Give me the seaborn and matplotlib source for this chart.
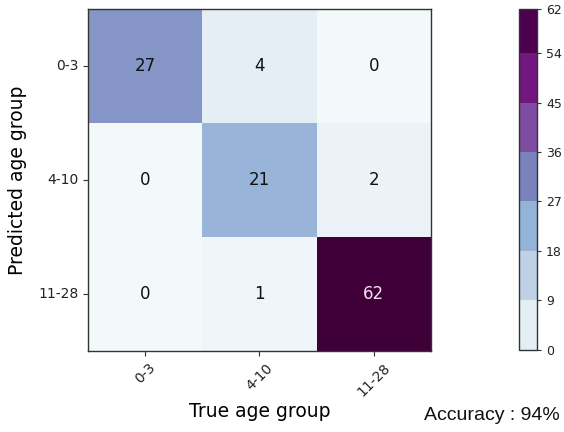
import matplotlib
matplotlib.use("Agg")
import matplotlib.pyplot as plt
import matplotlib.colors as mcolors
import matplotlib.colorbar as mcolorbar
import numpy as np
import pandas as pd
import seaborn as sns

# Age groups and confusion counts (rows: predicted, columns: true)
age_groups = ["0-3", "4-10", "11-28"]
row_0_3 = [27, 4, 0]
row_4_10 = [0, 21, 2]
row_11_28 = [0, 1, 62]
accuracy_pct = 94

# Colour-bar bin edges and segment colours
cbar_bounds = [0, 9, 18, 27, 36, 45, 54, 62]
cbar_colors = ["#e3eef5", "#bfd1e6", "#93b3d7", "#7a82bb",
               "#7e4ca0", "#72177f", "#4d004d"]

counts = pd.DataFrame([row_0_3, row_4_10, row_11_28],
                      index=age_groups, columns=age_groups)

fig = plt.figure(figsize=(5.64, 4.32), dpi=100)
ax = fig.add_axes([0.156, 0.1875, 0.608, 0.792])

# Blue-purple ramp for the cell shading (positions on a 0..1 scale)
cell_cmap = mcolors.LinearSegmentedColormap.from_list(
    "cells", [(0.0, "#f3f8fb"), (0.016, "#eff5f9"), (0.065, "#e4eef5"),
              (0.2, "#c2d4e8"), (0.339, "#97b5d9"), (0.435, "#8596c6"),
              (0.6, "#7f5fa8"), (0.8, "#6e1f80"), (1.0, "#3f0039")])
sns.heatmap(counts, ax=ax, cmap=cell_cmap, vmin=0, vmax=62, cbar=False,
            annot=True, fmt="d", annot_kws={"size": 12},
            xticklabels=age_groups, yticklabels=age_groups, square=False)

# Dark text everywhere except on the darkest cell
for txt in ax.texts:
    txt.set_color("#f2dff2" if int(txt.get_text()) > 45 else "#111111")

for sp in ax.spines.values():
    sp.set_visible(True)
    sp.set_color("#333333")
    sp.set_linewidth(1.0)

ax.tick_params(axis="both", length=3.5, width=0.8, color="#333333",
               labelsize=10, labelcolor="#222222")
plt.setp(ax.get_xticklabels(), rotation=45, ha="center")
plt.setp(ax.get_yticklabels(), rotation=0, va="center")
ax.set_xlabel("True age group", fontsize=13.5, labelpad=2)
ax.set_ylabel("Predicted age group", fontsize=13.5, labelpad=8)

# Discrete colour bar
cax = fig.add_axes([0.920, 0.19, 0.032, 0.789])
cmap_d = mcolors.ListedColormap(cbar_colors)
norm_d = mcolors.BoundaryNorm(cbar_bounds, cmap_d.N)
cb = mcolorbar.ColorbarBase(cax, cmap=cmap_d, norm=norm_d,
                            boundaries=cbar_bounds, ticks=cbar_bounds,
                            spacing="proportional")
cb.outline.set_edgecolor("#333333")
cb.outline.set_linewidth(1.0)
cax.tick_params(labelsize=9, length=3, width=0.8, color="#333333",
                labelcolor="#222222")
cax.set_yticklabels([str(b) for b in cbar_bounds])

fig.text(0.752, 0.027, f"Accuracy : {accuracy_pct}%", fontsize=14,
         family="Liberation Sans", color="#111111")

fig.savefig("out.png", dpi=100)
